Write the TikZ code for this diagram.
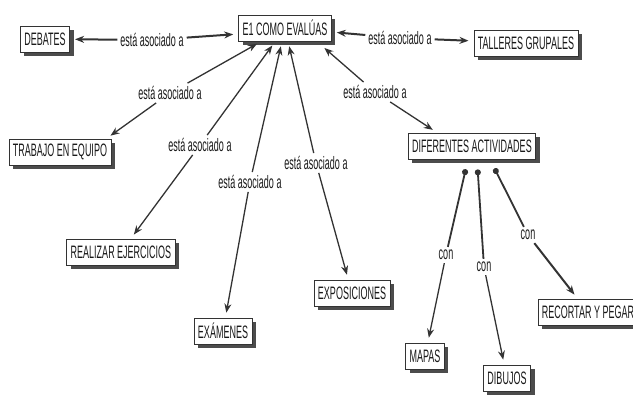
\documentclass[tikz,border=0pt]{standalone}
\usepackage{fontspec}
\setmainfont[FakeStretch=0.5]{Liberation Sans}
\usetikzlibrary{shadows, arrows.meta}
\tikzset{concepto/.style={draw=black!80, fill=white, line width=0.8pt, inner xsep=4pt,
                          minimum height=26pt, text=black!90, font=\fontsize{18}{20}\selectfont,
                          drop shadow={shadow xshift=4pt, shadow yshift=-4pt, fill=black!70, opacity=1}},
         enlace/.style={inner sep=3pt, text=black!90, font=\fontsize{18}{20}\selectfont},
         flecha/.style={draw=black!80, line width=1.3pt, -{Stealth[length=9pt,width=7pt]}, shorten >=5pt},
         gruesa/.style={flecha, line width=2pt},
         punto/.style={draw=black!80, line width=1.8pt, {Circle[length=6pt,width=6pt]}-, shorten <=10pt},
        }

\begin{document}
\begin{tikzpicture}[x=1pt, y=-1pt]
        \useasboundingbox (0,0) rectangle (633,397);

        \node[concepto](e1)at(285,28){E1 COMO EVALÚAS};
        \node[concepto](debates)at(45,39){DEBATES};
        \node[concepto](talleres)at(526,43){TALLERES GRUPALES};
        \node[concepto](trabajo)at(60,152){TRABAJO EN EQUIPO};
        \node[concepto](dif)at(472,146){DIFERENTES ACTIVIDADES};
        \node[concepto](realizar)at(121,252){REALIZAR EJERCICIOS};
        \node[concepto](examenes)at(223,331){EXÁMENES};
        \node[concepto](expos)at(352,293){EXPOSICIONES};
        \node[concepto](mapas)at(425,356){MAPAS};
        \node[concepto](dibujos)at(507,378){DIBUJOS};
        \node[concepto](recortar)at(588,312){RECORTAR Y PEGAR};

        \node[enlace](ldebates)at(152,40){está asociado a};
        \node[enlace](ltalleres)at(400,38){está asociado a};
        \node[enlace](ltrabajo)at(170,93){está asociado a};
        \node[enlace](lrealizar)at(200,145){está asociado a};
        \node[enlace](lexamenes)at(250,182){está asociado a};
        \node[enlace](lexpos)at(316,163){está asociado a};
        \node[enlace](ldif)at(375,92){está asociado a};
        \node[enlace](cmapas)at(446,255){con};
        \node[enlace](cdibujos)at(484,267){con};
        \node[enlace](crecortar)at(528,235){con};

        \draw[gruesa](ldebates)--(debates);
        \draw[gruesa](ldebates)--([yshift=-6pt]e1.west);
        \draw[gruesa](ltalleres)--(e1);
        \draw[gruesa](ltalleres)--(talleres);

        \draw[flecha](ltrabajo)--(e1);
        \draw[flecha](ltrabajo)--([xshift=-5pt]trabajo.north east);
        \draw[flecha](lrealizar)--(e1);
        \draw[flecha](lrealizar)--(realizar);
        \draw[flecha](lexamenes)--(e1);
        \draw[flecha](lexamenes)--(examenes);
        \draw[flecha](lexpos)--(e1);
        \draw[flecha](lexpos)--(expos);
        \draw[flecha, shorten >=10pt](ldif)--([xshift=-15pt]e1.south east);
        \draw[flecha](ldif)--([xshift=-35pt]dif.north);

        \draw[punto]([xshift=-4pt]dif.south)--(cmapas);
        \draw[flecha](cmapas)--(mapas);
        \draw[punto]([xshift=5pt]dif.south)--(cdibujos);
        \draw[flecha](cdibujos)--(dibujos);
        \draw[punto]([xshift=18pt]dif.south)--(crecortar);
        \draw[gruesa](crecortar)--(recortar);
    \end{tikzpicture}
\end{document}
